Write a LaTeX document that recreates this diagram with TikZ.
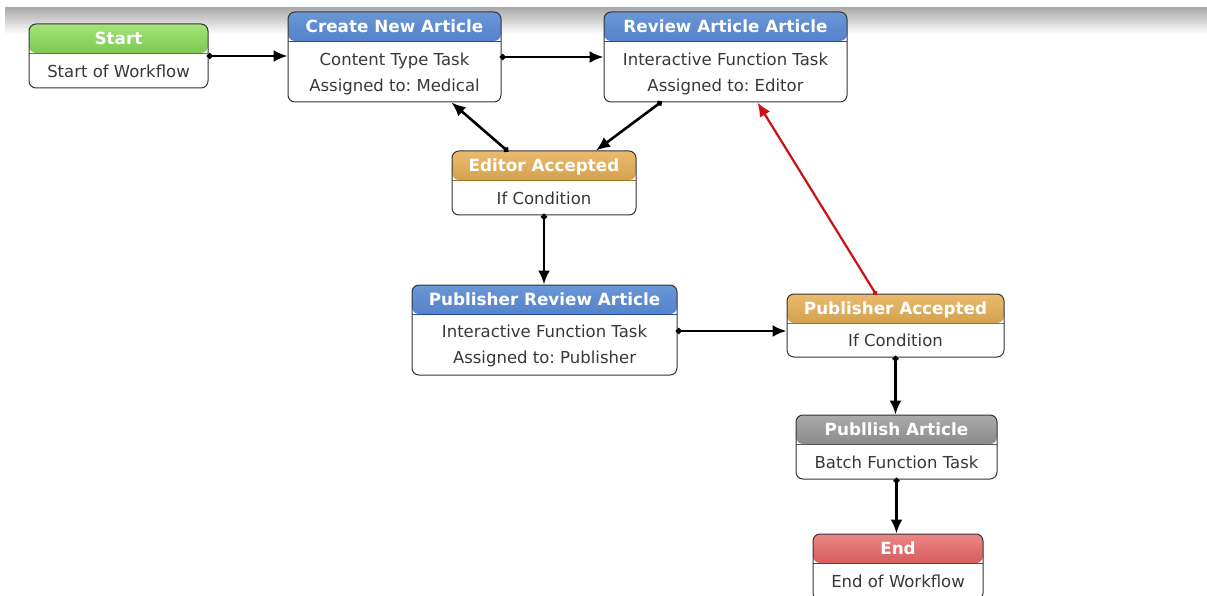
\documentclass[tikz,border=0pt]{standalone}
\usepackage{fontspec}
\setmainfont{DejaVu Sans}
\frenchspacing
\usetikzlibrary{arrows.meta}
\definecolor{gT}{HTML}{A4E37A}\definecolor{gM}{HTML}{6EC53A}\definecolor{gB}{HTML}{4DAA1C}
\definecolor{bT}{HTML}{6A97D5}\definecolor{bM}{HTML}{3B6BC7}\definecolor{bB}{HTML}{2956B6}
\definecolor{oT}{HTML}{EBBA6E}\definecolor{oM}{HTML}{D39D3C}\definecolor{oB}{HTML}{B6852A}
\definecolor{yT}{HTML}{ABABAB}\definecolor{yM}{HTML}{858585}\definecolor{yB}{HTML}{646464}
\definecolor{rT}{HTML}{EC8686}\definecolor{rM}{HTML}{D44646}\definecolor{rB}{HTML}{BC2828}
\definecolor{txt}{HTML}{383838}
\definecolor{redline}{HTML}{D01010}
\tikzset{
  wfbox/.style={draw=black!80, line width=1pt, rounded corners=7pt, fill=white, inner sep=0pt},
  wftitle/.style={text=white, font=\fontsize{16.8}{19}\selectfont\bfseries, inner sep=0pt, text height=12pt, text depth=3.5pt},
  wftext/.style={text=txt, font=\fontsize{16.5}{19}\selectfont, inner sep=0pt, text height=12pt, text depth=3.5pt},
  conn/.style={line width=2.6pt, {Circle[length=5.5pt]}-{Latex[length=14pt,width=12pt]}, shorten <=-1.5pt},
}
\newcommand\wfnode[9]{%
  \node[wfbox, minimum width=#4pt, minimum height=#5pt,
    path picture={\shade[top color=#6, middle color=#7, bottom color=#8]
      (path picture bounding box.north west) rectangle ([yshift=-29pt]path picture bounding box.north east);
      \draw[#8!85!black, line width=0.8pt] ([yshift=-29pt]path picture bounding box.north west) -- ([yshift=-29pt]path picture bounding box.north east);}]
    (#1) at (#2,#3) {};
  \node[wftitle] (#1-title) at ([yshift=-16.5pt]#1.north) {#9};
}
\begin{document}
\begin{tikzpicture}[x=1pt,y=-1pt]
\useasboundingbox (0,0) rectangle (1207,596);
% top shadow
\shade[top color=black!33, bottom color=white] (5,8) rectangle (1207,34);
% nodes
\wfnode{start}{118.5}{56}{179}{64}{gT}{gM}{gB}{Start}
\node[wftext] (start-t1) at (118.5,73) {Start of Workflow};
\wfnode{create}{394.5}{57}{213}{90}{bT}{bM}{bB}{Create New Article}
\node[wftext] (create-t1) at (394.5,61) {Content Type Task};
\node[wftext] (create-t2) at (394.5,87) {Assigned to: Medical};
\wfnode{review}{725.5}{57}{243}{90}{bT}{bM}{bB}{Review Article Article}
\node[wftext] (review-t1) at (725.5,61) {Interactive Function Task};
\node[wftext] (review-t2) at (725.5,87) {Assigned to: Editor};
\wfnode{edacc}{544}{183}{184}{64}{oT}{oM}{oB}{Editor Accepted}
\node[wftext] (edacc-t1) at (544,200) {If Condition};
\wfnode{pubrev}{544.5}{330}{265}{90}{bT}{bM}{bB}{Publisher Review Article}
\node[wftext] (pubrev-t1) at (544.5,333) {Interactive Function Task};
\node[wftext] (pubrev-t2) at (544.5,359) {Assigned to: Publisher};
\wfnode{pubacc}{895.5}{325.5}{217}{63}{oT}{oM}{oB}{Publisher Accepted}
\node[wftext] (pubacc-t1) at (895.5,342) {If Condition};
\wfnode{publish}{896.5}{447}{201}{64}{yT}{yM}{yB}{Publlish Article}
\node[wftext] (publish-t1) at (896.5,464) {Batch Function Task};
\wfnode{end}{898}{567}{170}{66}{rT}{rM}{rB}{End}
\node[wftext] (end-t1) at (898,583) {End of Workflow};
% connectors
\draw[conn] (start.east) -- (start.east -| create.west);
\draw[conn] (create.east) -- (review.west);
\draw[conn] ([xshift=-65pt]review.south) -- ([xshift=52pt]edacc.north);
\draw[conn] ([xshift=-37pt]edacc.north) -- ([xshift=57pt]create.south);
\draw[conn] (edacc.south) -- (edacc.south |- pubrev.north);
\draw[conn] ([yshift=-1pt]pubrev.east) -- ([yshift=-1pt]pubrev.east -| pubacc.west);
\draw[conn, redline, line width=2.2pt, {Circle[length=4.5pt]}-{Latex[length=14pt,width=12pt]}] ([xshift=-20pt]pubacc.north) -- ([xshift=32pt]review.south);
\draw[conn] (pubacc.south) -- (pubacc.south |- publish.north);
\draw[conn] (publish.south) -- (publish.south |- end.north);
\end{tikzpicture}
\end{document}
